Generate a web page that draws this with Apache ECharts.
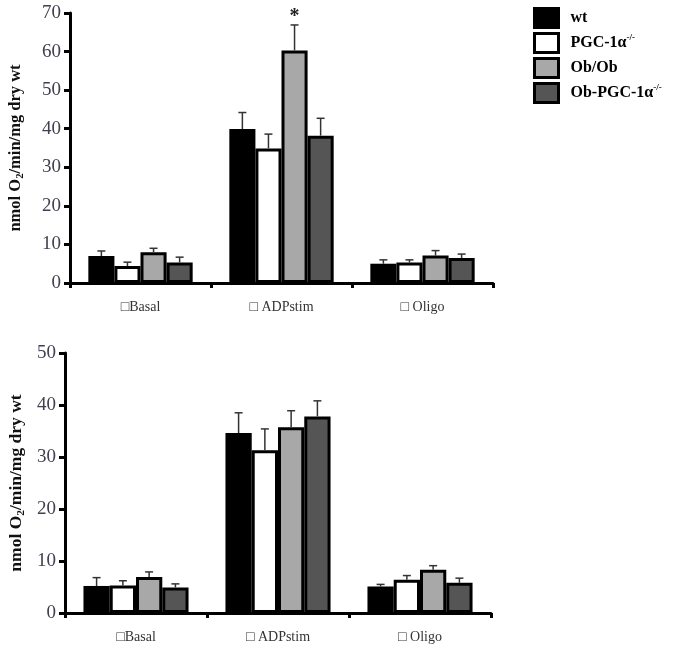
<!DOCTYPE html>
<html><head><meta charset="utf-8">
<script src="https://cdn.jsdelivr.net/npm/echarts@6/dist/echarts.min.js"></script>
<style>html,body{margin:0;padding:0;background:#fff}#c{width:690px;height:651px}</style>
</head><body><div id="c"></div>
<script>
// ---------- data ----------
const categories = ['\u25A1Basal', '\u25A1 ADPstim', '\u25A1 Oligo'];
const seriesNames = ['wt', 'PGC-1α-/-', 'Ob/Ob', 'Ob-PGC-1α-/-'];
const colors = ['#000000', '#ffffff', '#a8a8a8', '#555555'];

// top panel (mean, SE)
const topWt       = [7.0, 39.9, 5.0];
const topWtErr    = [1.3, 4.3, 1.0];
const topKO       = [4.4, 34.9, 5.3];
const topKOErr    = [1.0, 3.7, 0.7];
const topOb       = [8.0, 60.3, 7.1];
const topObErr    = [1.0, 6.6, 1.3];
const topObKO     = [5.3, 38.2, 6.5];
const topObKOErr  = [1.4, 4.5, 1.0];
const topSig      = [['', '', ''], ['', '', ''], ['', '*', ''], ['', '', '']];

// bottom panel (mean, SE)
const botWt       = [5.2, 34.6, 5.1];
const botWtErr    = [1.6, 3.9, 0.4];
const botKO       = [5.3, 31.3, 6.4];
const botKOErr    = [0.9, 4.1, 0.8];
const botOb       = [6.9, 35.7, 8.3];
const botObErr    = [1.0, 3.2, 0.8];
const botObKO     = [4.9, 37.8, 5.8];
const botObKOErr  = [0.7, 3.0, 0.9];

const topYMax = 70, botYMax = 50, yInterval = 10;

// ---------- chart ----------
const GAP = 0.26;
const serif = "'Liberation Serif','Times New Roman',serif";

function barSeries(name, idx, values, axisIdx) {
  return {
    type: 'bar', name: name, xAxisIndex: axisIdx, yAxisIndex: axisIdx,
    data: values, barGap: '0%', barCategoryGap: (GAP * 100) + '%',
    itemStyle: { color: colors[idx], borderColor: '#000', borderWidth: idx === 0 ? 0 : 3 },
    z: 2, silent: true
  };
}
function errSeries(idx, values, errs, sig, axisIdx) {
  const data = values.map((v, i) => [i, v, errs[i], i]);
  return {
    type: 'custom', xAxisIndex: axisIdx, yAxisIndex: axisIdx, z: 3, silent: true,
    data: data, encode: { x: 0, y: 1 },
    renderItem: function (params, api) {
      const ci = api.value(0), v = api.value(1), e = api.value(2), di = api.value(3);
      const base = api.coord([ci, v]);
      const top = api.coord([ci, v + e]);
      const catW = api.size([1, 0])[0];
      const bw = catW * (1 - GAP) / 4;
      const x = base[0] - catW * (1 - GAP) / 2 + bw * (idx + 0.5);
      const st = { stroke: '#333', lineWidth: 1.5 };
      const children = [
        { type: 'line', shape: { x1: x, y1: base[1], x2: x, y2: top[1] }, style: st },
        { type: 'line', shape: { x1: x - 4, y1: top[1], x2: x + 4, y2: top[1] }, style: st }
      ];
      const s = sig ? sig[di] : '';
      if (s) {
        children.push({ type: 'text', style: { text: s, x: x, y: top[1] - 8, align: 'center', verticalAlign: 'middle',
          font: 'bold 20px ' + serif, fill: '#222' } });
      }
      return { type: 'group', children: children };
    }
  };
}

function xAxis(gridIndex) {
  return {
    type: 'category', gridIndex: gridIndex, data: categories,
    axisLine: { lineStyle: { color: '#000', width: 3 } },
    axisTick: { show: true, length: 5, lineStyle: { color: '#000', width: 3 } },
    axisLabel: { color: '#333', fontFamily: serif, fontSize: 14, margin: 17 }
  };
}
function yAxis(gridIndex, max, gap, nameSize) {
  return {
    type: 'value', gridIndex: gridIndex, min: 0, max: max, interval: yInterval,
    axisLine: { show: true, lineStyle: { color: '#000', width: 3 } },
    axisTick: { show: true, length: 6, lineStyle: { color: '#000', width: 3 } },
    splitLine: { show: false },
    axisLabel: { color: '#404050', fontFamily: serif, fontSize: 19, margin: 9 },
    name: 'nmol O{sub|2}/min/mg dry wt', nameLocation: 'middle', nameGap: gap, nameRotate: 90,
    nameTextStyle: { fontFamily: serif, fontWeight: 'bold', fontSize: nameSize, color: '#111', lineHeight: 20,
      rich: { sub: { fontFamily: serif, fontWeight: 'bold', fontSize: nameSize * 0.65, color: '#111', verticalAlign: 'bottom', lineHeight: 20 } } }
  };
}

const series = [];
const topVals = [topWt, topKO, topOb, topObKO], topErrs = [topWtErr, topKOErr, topObErr, topObKOErr];
const botVals = [botWt, botKO, botOb, botObKO], botErrs = [botWtErr, botKOErr, botObErr, botObKOErr];
for (let i = 0; i < 4; i++) series.push(barSeries(seriesNames[i], i, topVals[i], 0));
for (let i = 0; i < 4; i++) series.push(barSeries(seriesNames[i], i, botVals[i], 1));
for (let i = 0; i < 4; i++) series.push(errSeries(i, topVals[i], topErrs[i], topSig[i], 0));
for (let i = 0; i < 4; i++) series.push(errSeries(i, botVals[i], botErrs[i], null, 1));

const option = {
  animation: false,
  backgroundColor: '#fff',
  grid: [
    { left: 70, top: 13, width: 423, height: 270, outerBoundsMode: 'none', containLabel: false },
    { left: 65, top: 353, width: 426, height: 260, outerBoundsMode: 'none', containLabel: false }
  ],
  xAxis: [xAxis(0), xAxis(1)],
  yAxis: [yAxis(0, topYMax, 44, 16.5), yAxis(1, botYMax, 38, 17.5)],
  legend: {
    orient: 'vertical', left: 528, top: 2, itemWidth: 24, itemHeight: 19, itemGap: 3,
    icon: 'rect',
    selectedMode: false,
    data: seriesNames.map((n, i) => ({ name: n, icon: 'rect', itemStyle: { color: colors[i], borderColor: '#000', borderWidth: 3 } })),
    formatter: function (n) { return n.replace('-/-', '{sup|-/-}'); },
    textStyle: { fontFamily: serif, fontWeight: 'bold', fontSize: 16, color: '#000', lineHeight: 19, padding: [0, 0, 0, 7],
      rich: { sup: { fontFamily: serif, fontSize: 9, color: '#000', verticalAlign: 'top', lineHeight: 19 } } }
  },
  series: series
};
echarts.init(document.getElementById('c'), null, { renderer: 'canvas' }).setOption(option);
</script>
</body></html>
